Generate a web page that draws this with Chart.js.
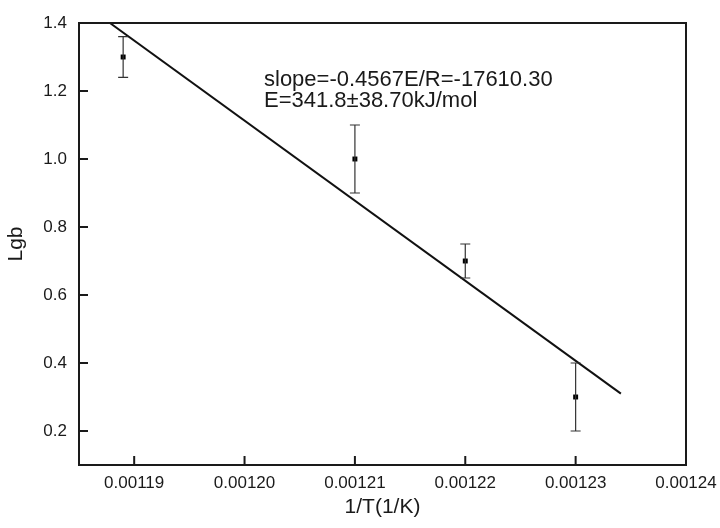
<!DOCTYPE html>
<html>
<head>
<meta charset="utf-8">
<script src="https://cdn.jsdelivr.net/npm/chart.js@4/dist/chart.umd.min.js"></script>
<style>
    html, body { margin: 0; padding: 0; background: #fff; }
    #wrap { width: 720px; height: 528px; }
</style>
</head>
<body>
<div id="wrap"><canvas id="arrhenius"></canvas></div>
<script>
// measured points (1/T, lg b) with error bars
const invT = [0.001189, 0.00121, 0.00122, 0.00123];
const lgb = [1.30, 1.00, 0.70, 0.30];
const lgbErr = [0.06, 0.10, 0.05, 0.10];

// fitted line end points
const fitX = [0.0011878, 0.0012341];
const fitY = [1.40, 0.31];

// axis ticks
const xTickValues = [0.00119, 0.00120, 0.00121, 0.00122, 0.00123, 0.00124];
const xTickLabels = ["0.00119", "0.00120", "0.00121", "0.00122", "0.00123", "0.00124"];
const yTickValues = [0.2, 0.4, 0.6, 0.8, 1.0, 1.2, 1.4];
const yTickLabels = ["0.2", "0.4", "0.6", "0.8", "1.0", "1.2", "1.4"];

const noteLines = ["slope=-0.4567E/R=-17610.30", "E=341.8\u00b138.70kJ/mol"];

const FONT = "'Liberation Sans', Arial, sans-serif";
const INK = "#1a1a1a";

// 테두리, 안쪽 눈금, 오차막대, 주석
const decorPlugin = {
    id: "decor",
    afterDatasetsDraw(chart) {
        const ctx = chart.ctx;
        const area = chart.chartArea;
        const xs = chart.scales.x;
        const ys = chart.scales.y;
        ctx.save();

        // error bars
        ctx.strokeStyle = "#333";
        ctx.lineWidth = 1.2;
        invT.forEach((x, i) => {
            const px = xs.getPixelForValue(x);
            const top = ys.getPixelForValue(lgb[i] + lgbErr[i]);
            const bot = ys.getPixelForValue(lgb[i] - lgbErr[i]);
            ctx.beginPath();
            ctx.moveTo(px, top); ctx.lineTo(px, bot);
            ctx.moveTo(px - 5, top); ctx.lineTo(px + 5, top);
            ctx.moveTo(px - 5, bot); ctx.lineTo(px + 5, bot);
            ctx.stroke();
        });

        // frame
        ctx.strokeStyle = INK;
        ctx.lineWidth = 2;
        ctx.strokeRect(area.left, area.top, area.right - area.left, area.bottom - area.top);

        // inward ticks
        ctx.beginPath();
        xTickValues.forEach(v => {
            const px = xs.getPixelForValue(v);
            ctx.moveTo(px, area.bottom); ctx.lineTo(px, area.bottom - 9);
        });
        yTickValues.forEach(v => {
            const py = ys.getPixelForValue(v);
            ctx.moveTo(area.left, py); ctx.lineTo(area.left + 9, py);
        });
        ctx.stroke();

        // annotation
        ctx.fillStyle = INK;
        ctx.font = "22px " + FONT;
        ctx.textAlign = "left";
        ctx.textBaseline = "alphabetic";
        ctx.fillText(noteLines[0], 264, 86);
        ctx.fillText(noteLines[1], 264, 107);
        ctx.restore();
    }
};

const ctx = document.getElementById("arrhenius").getContext("2d");
new Chart(ctx, {
    type: "scatter",
    data: {
        datasets: [
            {
                label: "fit",
                type: "line",
                data: fitX.map((x, i) => ({ x: x, y: fitY[i] })),
                borderColor: "#111",
                borderWidth: 2,
                pointRadius: 0,
                fill: false
            },
            {
                label: "lgb",
                data: invT.map((x, i) => ({ x: x, y: lgb[i] })),
                pointStyle: "rect",
                pointRadius: 3.5,
                backgroundColor: "#000",
                borderColor: "#000",
                borderWidth: 0
            }
        ]
    },
    options: {
        responsive: true,
        maintainAspectRatio: false,
        animation: false,
        layout: { padding: { left: 0, top: 23, right: 34, bottom: 0 } },
        plugins: {
            legend: { display: false },
            tooltip: { enabled: false }
        },
        scales: {
            x: {
                type: "linear",
                min: 0.001185,
                max: 0.00124,
                grid: { display: false, drawTicks: false },
                border: { display: false },
                afterBuildTicks: scale => { scale.ticks = xTickValues.map(v => ({ value: v })); },
                afterFit: scale => {
                    scale.height = 63;
                    scale.paddingLeft = 0;
                    scale.paddingRight = 0;
                },
                ticks: {
                    padding: 8,
                    color: INK,
                    font: { family: FONT, size: 17 },
                    maxRotation: 0,
                    callback: (v, i) => xTickLabels[i]
                },
                title: {
                    display: true,
                    text: "1/T(1/K)",
                    color: INK,
                    font: { family: FONT, size: 21 },
                    padding: { top: 0, bottom: 8 }
                }
            },
            y: {
                type: "linear",
                min: 0.1,
                max: 1.4,
                grid: { display: false, drawTicks: false },
                border: { display: false },
                afterBuildTicks: scale => { scale.ticks = yTickValues.map(v => ({ value: v })); },
                afterFit: scale => {
                    scale.width = 79;
                    scale.paddingTop = 0;
                    scale.paddingBottom = 0;
                },
                ticks: {
                    padding: 12,
                    color: INK,
                    font: { family: FONT, size: 17 },
                    callback: (v, i) => yTickLabels[i]
                },
                title: {
                    display: true,
                    text: "Lgb",
                    color: INK,
                    font: { family: FONT, size: 21 },
                    padding: { top: 4, bottom: 0 }
                }
            }
        }
    },
    plugins: [decorPlugin]
});
</script>
</body>
</html>
